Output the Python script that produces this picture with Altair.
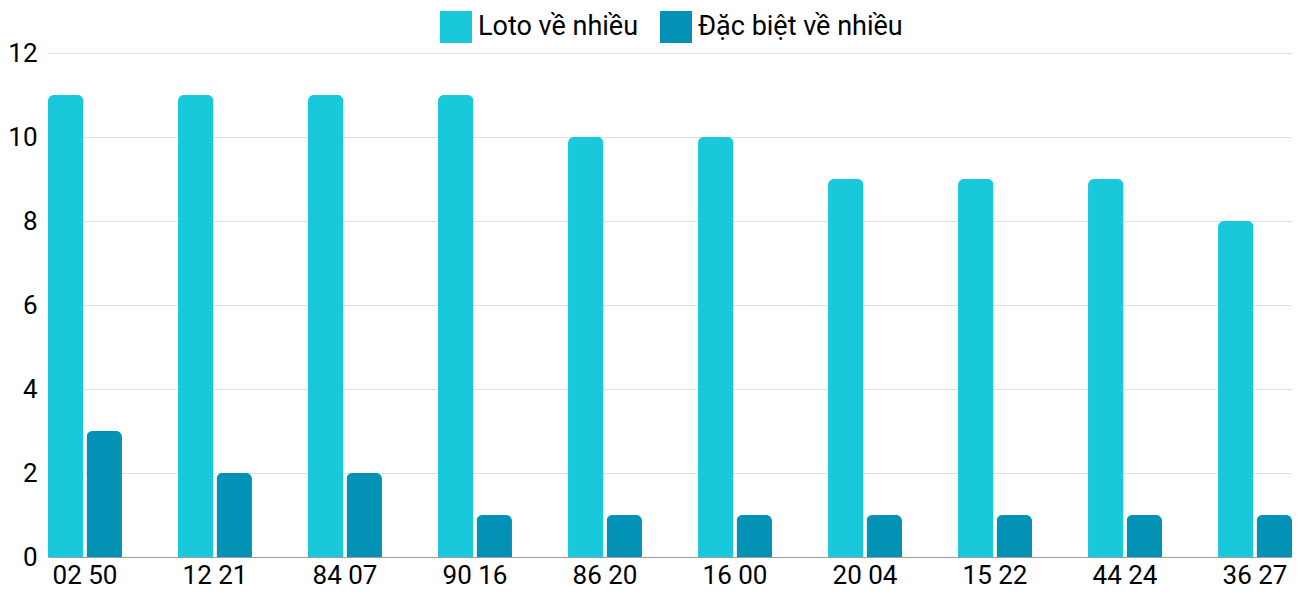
import altair as alt
import pandas as pd

categories = ["02 50", "12 21", "84 07", "90 16", "86 20", "16 00", "20 04", "15 22", "44 24", "36 27"]
loto_values = [11, 11, 11, 11, 10, 10, 9, 9, 9, 8]
dacbiet_values = [3, 2, 2, 1, 1, 1, 1, 1, 1, 1]
series_names = ["Loto về nhiều", "Đặc biệt về nhiều"]
series_colors = ["#1AC8DB", "#0392B5"]
y_ticks = [0, 2, 4, 6, 8, 10, 12]

rows = []
for c, a, b in zip(categories, loto_values, dacbiet_values):
    rows.append({"cat": c, "series": series_names[0], "value": a})
    rows.append({"cat": c, "series": series_names[1], "value": b})
df = pd.DataFrame(rows)

chart = alt.Chart(df).mark_bar(
    cornerRadiusTopLeft=6, cornerRadiusTopRight=6
).encode(
    x=alt.X("cat:N", sort=categories, title=None,
            scale=alt.Scale(paddingInner=0.431, paddingOuter=0),
            axis=alt.Axis(labelAngle=0, ticks=False, domain=True, domainColor="#9e9e9e",
                          domainWidth=1, labelFontSize=26, labelFont="Roboto",
                          labelColor="#000000", labelPadding=5, grid=False)),
    xOffset=alt.XOffset("series:N", sort=series_names,
                        scale=alt.Scale(paddingInner=0.078, paddingOuter=0)),
    y=alt.Y("value:Q", title=None,
            scale=alt.Scale(domain=[0, 12], nice=False),
            axis=alt.Axis(values=y_ticks, domain=False, ticks=False, grid=True,
                          gridColor="#e0e0e0", gridWidth=1, labelFontSize=26,
                          labelFont="Roboto", labelColor="#000000", labelPadding=11)),
    color=alt.Color("series:N", sort=series_names,
                    scale=alt.Scale(domain=series_names, range=series_colors),
                    legend=alt.Legend(title=None, orient="none", direction="horizontal",
                                      legendX=392, legendY=-42, symbolType="square",
                                      symbolSize=1024, symbolStrokeWidth=0,
                                      labelFontSize=27, labelFont="Roboto",
                                      labelColor="#000000", labelOffset=6, labelLimit=0,
                                      columnPadding=21, padding=0)),
).properties(
    width=1244, height=504,
    autosize=alt.AutoSizeParams(type="none"),
    padding={"left": 40, "top": 45, "right": 0, "bottom": 35},
).configure_view(stroke=None)

chart.save("out.html", embed_options={"renderer": "svg", "actions": False})
